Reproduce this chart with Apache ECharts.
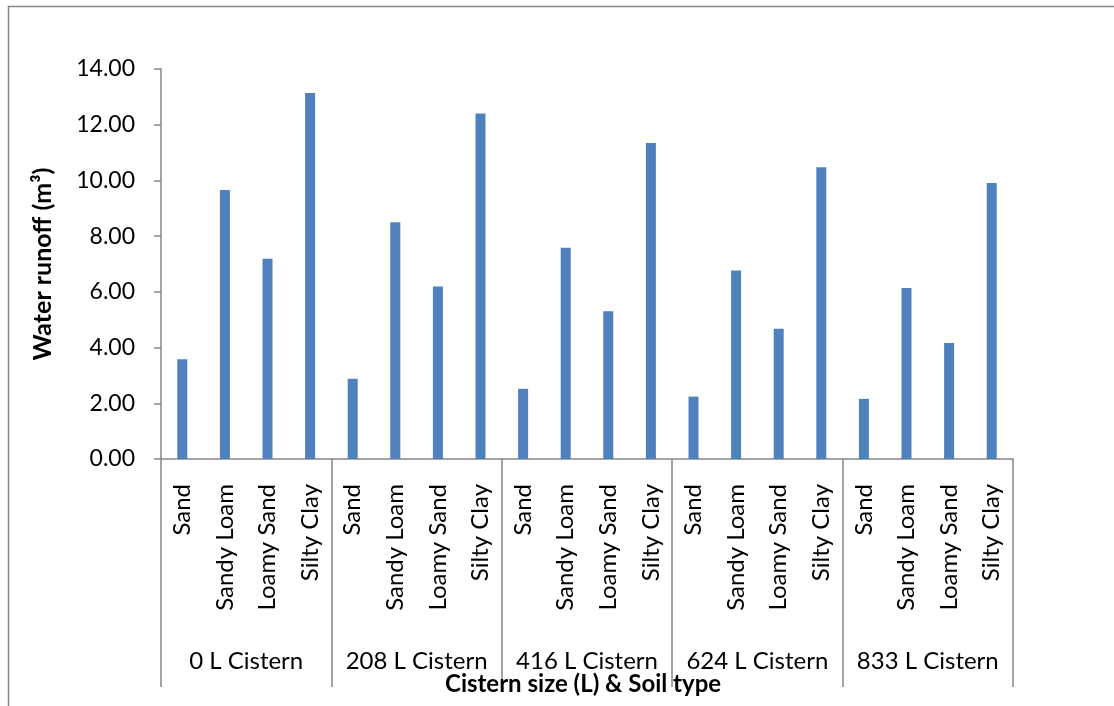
<!DOCTYPE html>
<html>
<head>
<meta charset="utf-8">
<script src="https://cdn.jsdelivr.net/npm/echarts@6/dist/echarts.min.js"></script>
<style>
  html, body { margin: 0; padding: 0; background: #fff; }
  #chart { width: 1114px; height: 706px; }
</style>
</head>
<body>
<div id="chart"></div>
<script>
// Soil types repeated for every cistern size
var soilTypes = ['Sand', 'Sandy Loam', 'Loamy Sand', 'Silty Clay'];
var cisternSizes = ['0 L Cistern', '208 L Cistern', '416 L Cistern', '624 L Cistern', '833 L Cistern'];

// Water runoff (m³) per cistern size, in soil-type order
var runoff0   = [3.58, 9.66, 7.19, 13.14];
var runoff208 = [2.88, 8.50, 6.19, 12.40];
var runoff416 = [2.52, 7.58, 5.30, 11.34];
var runoff624 = [2.24, 6.77, 4.68, 10.47];
var runoff833 = [2.16, 6.14, 4.16, 9.91];

var yTicks = { min: 0, max: 14, interval: 2 };

var FONT = 'Lato, "Open Sans", sans-serif';
var AXIS_GRAY = '#868686';
var BAR_BLUE = '#4F81BD';

// Flatten into one category axis (inner level) and one value list
var categories = [];
var values = [];
[runoff0, runoff208, runoff416, runoff624, runoff833].forEach(function (group) {
  group.forEach(function (v, i) {
    categories.push(soilTypes[i]);
    values.push(v);
  });
});

var chart = echarts.init(document.getElementById('chart'), null, { renderer: 'canvas' });

chart.setOption({
  backgroundColor: '#ffffff',
  animation: false,
  textStyle: { fontFamily: FONT },
  // x-axis title sits below the two-level category labels
  title: {
    text: 'Cistern size (L) & Soil type',
    left: 445,
    top: 672,
    padding: 0,
    textStyle: {
      color: '#000',
      fontSize: 24,
      fontWeight: 'bold',
      fontFamily: FONT
    }
  },
  graphic: [
    {
      type: 'rect',
      shape: { x: 8.5, y: 6.5, width: 1200, height: 800 },
      style: { fill: 'none', stroke: AXIS_GRAY, lineWidth: 1.5 },
      silent: true
    }
  ],
  grid: {
    left: 161, right: 101, top: 69, bottom: 247,
    containLabel: false,
    outerBoundsMode: 'none'
  },
  xAxis: [
    {
      type: 'category',
      data: categories,
      position: 'bottom',
      axisLine: { show: true, lineStyle: { color: AXIS_GRAY, width: 1.5 } },
      axisTick: { show: false },
      axisLabel: {
        interval: 0,
        rotate: 90,
        margin: 25,
        color: '#000',
        fontSize: 24,
        fontFamily: FONT
      },
      splitLine: { show: false }
    },
    {
      type: 'category',
      data: cisternSizes,
      position: 'bottom',
      axisLine: { show: false },
      axisTick: {
        show: true,
        interval: 0,
        length: 228,
        lineStyle: { color: AXIS_GRAY, width: 1.5 }
      },
      axisLabel: {
        interval: 0,
        margin: 190,
        color: '#000',
        fontSize: 24,
        fontFamily: FONT
      },
      splitLine: { show: false }
    }
  ],
  yAxis: {
    type: 'value',
    min: yTicks.min,
    max: yTicks.max,
    interval: yTicks.interval,
    axisLine: { show: true, lineStyle: { color: AXIS_GRAY, width: 1.5 } },
    axisTick: { show: true, inside: false, length: 7, lineStyle: { color: AXIS_GRAY, width: 1.5 } },
    axisLabel: {
      margin: 26,
      color: '#000',
      fontSize: 23,
      fontFamily: FONT,
      formatter: function (v) { return v.toFixed(2); }
    },
    splitLine: { show: false },
    name: 'Water runoff (m³)',
    nameLocation: 'middle',
    nameGap: 106,
    nameMoveOverlap: false,
    nameTextStyle: {
      color: '#000',
      fontSize: 25,
      fontWeight: 'bold',
      fontFamily: FONT
    }
  },
  series: [
    {
      type: 'bar',
      xAxisIndex: 0,
      data: values,
      barWidth: 10,
      itemStyle: { color: BAR_BLUE }
    }
  ]
});
</script>
</body>
</html>
